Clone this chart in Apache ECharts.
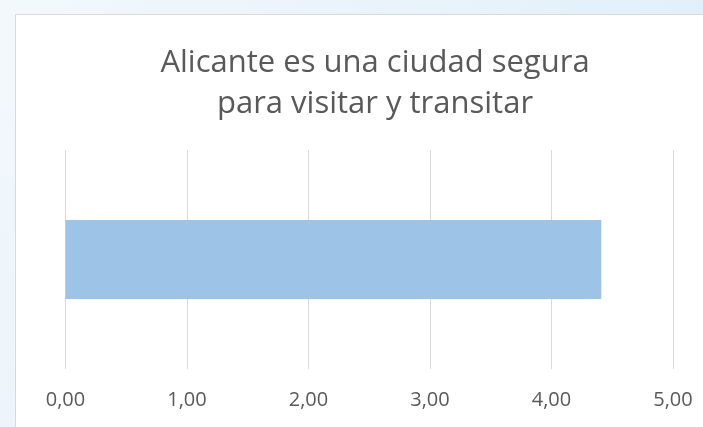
<!DOCTYPE html>
<html>
<head>
<meta charset="utf-8">
<script src="https://cdn.jsdelivr.net/npm/echarts@6/dist/echarts.min.js"></script>
<style>
  html, body { margin: 0; padding: 0; }
  #chart { width: 703px; height: 427px; }
</style>
</head>
<body>
<div id="chart"></div>
<script>
var categories = ['Alicante es una ciudad segura para visitar y transitar'];
var values = [4.41];
var ticks = [0, 1, 2, 3, 4, 5];

var chart = echarts.init(document.getElementById('chart'));

var option = {
	backgroundColor: {
		type: 'linear', x: 0, y: 0, x2: 1, y2: 1,
		colorStops: [
			{ offset: 0, color: '#f3f8fc' },
			{ offset: 1, color: '#dcecf8' }
		]
	},
	graphic: [
		{
			type: 'rect',
			z: -10,
			shape: { x: 15.5, y: 14.5, width: 720, height: 430 },
			style: { fill: '#ffffff', stroke: '#d9d9d9', lineWidth: 1 }
		}
	],
	title: {
		text: 'Alicante es una ciudad segura\npara visitar y transitar',
		left: 370,
		textAlign: 'center',
		top: 38,
		textStyle: {
			fontFamily: 'Open Sans',
			fontSize: 31,
			fontWeight: 'normal',
			color: '#595959',
			lineHeight: 41
		}
	},
	grid: {
		left: 65.5,
		right: 30,
		top: 150,
		bottom: 58
	},
	xAxis: {
		type: 'value',
		min: ticks[0],
		max: ticks[ticks.length - 1],
		interval: 1,
		axisLine: { show: false },
		axisTick: { show: false },
		axisLabel: {
			margin: 21,
			fontFamily: 'Open Sans',
			fontSize: 20,
			color: '#595959',
			formatter: function (v) {
				return v.toFixed(2).replace('.', ',');
			}
		},
		splitLine: { lineStyle: { color: '#d9d9d9', width: 1 } }
	},
	yAxis: {
		type: 'category',
		data: categories,
		show: false
	},
	series: [
		{
			type: 'bar',
			data: values,
			barWidth: 79,
			itemStyle: { color: '#9dc3e6' }
		}
	]
};

chart.setOption(option);
</script>
</body>
</html>
